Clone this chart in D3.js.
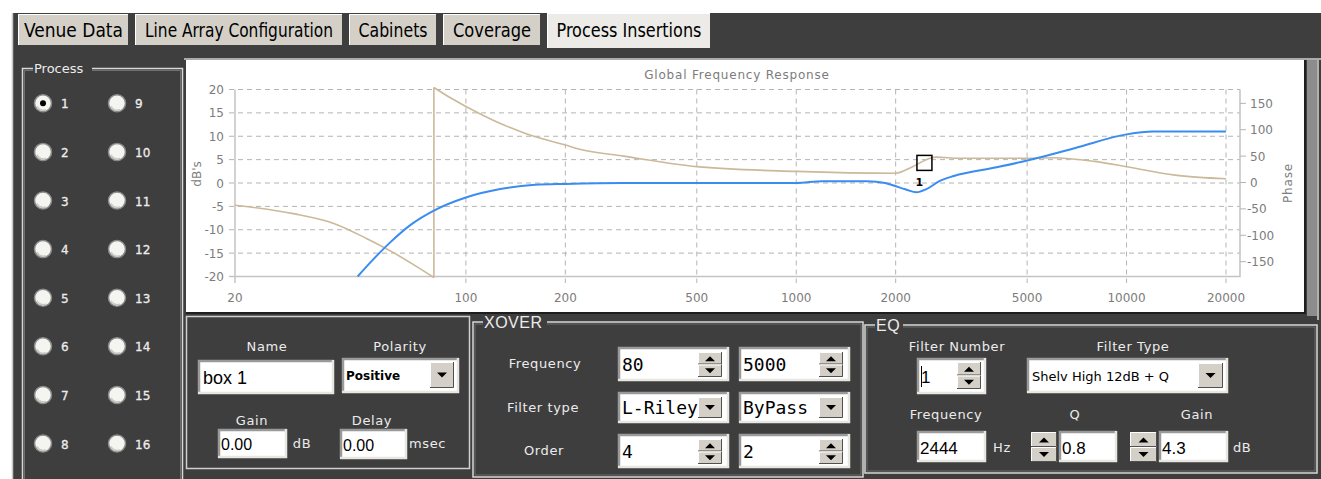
<!DOCTYPE html>
<html>
<head>
<meta charset="utf-8">
<script src="https://cdn.jsdelivr.net/npm/d3@7"></script>
<style>
    html, body { margin: 0; padding: 0; background: #ffffff; }
    svg { display: block; }
</style>
</head>
<body>
<script>
// Magnitude response (blue), dB against frequency in Hz
const magFreq = [47, 52, 59, 68.5, 80, 100, 127, 162, 200, 300, 1000, 1200, 1640, 1860, 1980, 2150, 2312, 2480, 2730, 3000, 4000, 5000, 7000, 10000, 12000, 20000];
const magDb = [-20, -16.6, -12.7, -8.8, -5.9, -3.1, -1.3, -0.4, -0.2, 0, 0, 0.4, 0.4, 0, -0.6, -1.4, -2.0, -1.3, 0.5, 1.5, 3.3, 4.8, 7.5, 10.4, 11, 11];

// Phase response (tan), degrees against frequency, wraps at 80 Hz
const phaseFreq = [20, 30, 40, 50, 60, 70, 80, 80, 90, 100, 120, 150, 200, 221, 300, 500, 1000, 2000, 2250, 2540, 2650, 3130, 5000, 6000, 8000, 10000, 14000, 20000];
const phaseDeg = [-43, -59, -78, -106, -132, -157, -180, 180, 160, 144, 119, 94, 71, 63, 50, 30, 21, 17.5, 30, 46, 48, 46, 46, 47, 40, 30, 14, 7];

// Axis ticks
const freqTicks = [20, 100, 200, 500, 1000, 2000, 5000, 10000, 20000];
const dbTicks = [20, 15, 10, 5, 0, -5, -10, -15, -20];
const phaseTicks = [150, 100, 50, 0, -50, -100, -150];

// EQ filter marker
const markerFreq = [2444];
const markerGain = [4.3];

// Tabs and process numbers
const tabNames = ['Venue Data', 'Line Array Configuration', 'Cabinets', 'Coverage', 'Process Insertions'];
const processNumbers = [1, 2, 3, 4, 5, 6, 7, 8, 9, 10, 11, 12, 13, 14, 15, 16];

const W = 1321, H = 479;
const DARK = '#3e3e3e', FACE = '#d4d0c8', LABEL = '#ececec';
const UI_FONT = 'DejaVu Sans, Verdana, sans-serif';

const svg = d3.select('body').append('svg')
    .attr('width', W)
    .attr('height', H);

// Dark application panel
svg.append('rect').attr('x', 12).attr('y', 13).attr('width', W - 12).attr('height', H - 13).attr('fill', DARK);
svg.append('line').attr('x1', 12.5).attr('x2', 12.5).attr('y1', 13).attr('y2', H).attr('stroke', '#c8c8c8').attr('stroke-width', 1.5);

// Tabs
const tabX = [18, 135, 349, 443, 547];
const tabW = [111, 208, 88, 98, 164];
const tabTextW = [99, 188, 69, 78, 145];
tabNames.forEach(function(name, i) {
    const selected = i === tabNames.length - 1;
    const top = selected ? 13 : 14;
    const h = selected ? 35 : 31;
    svg.append('rect')
        .attr('x', tabX[i]).attr('y', top).attr('width', tabW[i]).attr('height', h)
        .attr('fill', selected ? '#ecebe7' : FACE);
    // bevel
    svg.append('path')
        .attr('d', `M${tabX[i] + 0.5},${top + h} V${top + 0.5} H${tabX[i] + tabW[i]}`)
        .attr('stroke', '#ffffff').attr('fill', 'none');
    svg.append('line')
        .attr('x1', tabX[i] + tabW[i] - 0.5).attr('x2', tabX[i] + tabW[i] - 0.5)
        .attr('y1', top).attr('y2', top + h)
        .attr('stroke', '#404040');
    svg.append('text')
        .attr('x', tabX[i] + (tabW[i] - tabTextW[i]) / 2)
        .attr('y', 37)
        .attr('textLength', tabTextW[i])
        .attr('lengthAdjust', 'spacingAndGlyphs')
        .attr('font-family', 'Liberation Sans Narrow, DejaVu Sans Condensed, Arial, sans-serif')
        .attr('font-size', 19)
        .attr('fill', '#000')
        .text(name);
});

// ---------- Process group with radio buttons ----------
svg.append('path')
    .attr('d', 'M33,68.5 H22.5 V479 M182.5,479 V68.5 H92')
    .attr('stroke', '#d8d8d8').attr('fill', 'none').attr('stroke-width', 1.5);
svg.append('path')
    .attr('d', 'M33,70.5 H24.5 V479 M180.5,479 V70.5 H92')
    .attr('stroke', '#707070').attr('fill', 'none').attr('stroke-width', 1);
svg.append('text')
    .attr('x', 34).attr('y', 73)
    .attr('font-family', UI_FONT).attr('font-size', 13)
    .attr('fill', LABEL)
    .text('Process');

processNumbers.forEach(function(n, i) {
    const col = Math.floor(i / 8), row = i % 8;
    const cx = col === 0 ? 43 : 117;
    const cy = 103.3 + row * 48.6;
    svg.append('circle').attr('cx', cx).attr('cy', cy).attr('r', 8.5)
        .attr('fill', '#f4f4f0').attr('stroke', '#8a8a8a').attr('stroke-width', 1.5);
    svg.append('path')
        .attr('d', `M${cx - 6},${cy + 3} A7,7 0 0 0 ${cx + 3},${cy + 6.5}`)
        .attr('stroke', '#c8c8c0').attr('fill', 'none').attr('stroke-width', 1.5);
    if (n === 1) {
        svg.append('circle').attr('cx', cx).attr('cy', cy).attr('r', 3).attr('fill', '#000');
    }
    svg.append('text')
        .attr('x', cx + 18).attr('y', cy + 5)
        .attr('font-family', UI_FONT).attr('font-size', 12)
        .attr('fill', LABEL)
        .attr('stroke', LABEL).attr('stroke-width', 0.3)
        .text(n);
});

// ---------- Chart panel ----------
svg.append('line').attr('x1', 184).attr('x2', W).attr('y1', 59).attr('y2', 59).attr('stroke', '#d0d0d0').attr('stroke-width', 1.5);
svg.append('rect').attr('x', 186).attr('y', 60).attr('width', 1118).attr('height', 252).attr('fill', '#ffffff');
svg.append('path').attr('d', 'M1305,60 V313 H186').attr('stroke', '#1e1e1e').attr('stroke-width', 2).attr('fill', 'none');
svg.append('rect').attr('x', 1307).attr('y', 60).attr('width', 10).attr('height', 256).attr('fill', '#8c8c8c');
svg.append('line').attr('x1', 1318).attr('x2', 1318).attr('y1', 60).attr('y2', 320).attr('stroke', '#d6d6d6').attr('stroke-width', 1.5);

const x = d3.scaleLog().domain([20, 20000]).range([235, 1226]);
const yDb = d3.scaleLinear().domain([-20, 20]).range([276.5, 89.5]);
const yPh = d3.scaleLinear().domain([-180, 180]).range([277.5, 87.5]);

const chart = svg.append('g').attr('font-family', UI_FONT).attr('font-size', 12).attr('fill', '#7c7c7c');

// Grid
chart.selectAll('.hgrid')
    .data(dbTicks.filter(d => d !== -20))
    .enter().append('line')
    .attr('x1', 229).attr('x2', 1240)
    .attr('y1', d => yDb(d)).attr('y2', d => yDb(d))
    .attr('stroke', '#b4b4b4').attr('stroke-dasharray', '5,4');
chart.selectAll('.vgrid')
    .data(freqTicks.filter(d => d !== 20))
    .enter().append('line')
    .attr('x1', d => x(d)).attr('x2', d => x(d))
    .attr('y1', yDb(20)).attr('y2', 283)
    .attr('stroke', '#b4b4b4').attr('stroke-dasharray', '5,4');

// Axis lines
chart.append('path')
    .attr('d', `M${x(20)},${yDb(20)} V${yDb(-20)} H1240 V${yDb(20)}`)
    .attr('stroke', '#c4c4c4').attr('stroke-width', 1.5).attr('fill', 'none');
chart.append('line').attr('x1', x(20)).attr('x2', x(20)).attr('y1', yDb(-20)).attr('y2', 283).attr('stroke', '#c4c4c4').attr('stroke-width', 1.5);
chart.append('line').attr('x1', 229).attr('x2', x(20)).attr('y1', yDb(-20)).attr('y2', yDb(-20)).attr('stroke', '#c4c4c4').attr('stroke-width', 1.5);

// Left axis labels (dB)
chart.selectAll('.dbLabel')
    .data(dbTicks)
    .enter().append('text')
    .attr('x', 224).attr('y', d => yDb(d) + 4.5)
    .attr('text-anchor', 'end')
    .text(d => d);

// Bottom axis labels (Hz)
chart.selectAll('.fLabel')
    .data(freqTicks)
    .enter().append('text')
    .attr('x', d => x(d)).attr('y', 302)
    .attr('text-anchor', 'middle')
    .text(d => d);

// Right axis ticks and labels (phase)
chart.selectAll('.phTick')
    .data(phaseTicks)
    .enter().append('line')
    .attr('x1', 1240).attr('x2', 1246)
    .attr('y1', d => yPh(d)).attr('y2', d => yPh(d))
    .attr('stroke', '#b4b4b4');
chart.selectAll('.phLabel')
    .data(phaseTicks)
    .enter().append('text')
    .attr('x', d => d < 0 ? 1247 : 1250).attr('y', d => yPh(d) + 4.5)
    .text(d => d);

// Titles
chart.append('text')
    .attr('x', 737).attr('y', 79)
    .attr('text-anchor', 'middle')
    .attr('letter-spacing', 0.8)
    .text('Global Frequency Response');
chart.append('text')
    .attr('transform', 'translate(201,174) rotate(-90)')
    .attr('text-anchor', 'middle')
    .text("dB's");
chart.append('text')
    .attr('transform', 'translate(1292,183) rotate(-90)')
    .attr('text-anchor', 'middle')
    .attr('letter-spacing', 0.8)
    .text('Phase');

// Curves: the phase is split at the wrap point and joined by a vertical jump
const phasePts = phaseFreq.map((f, i) => [f, phaseDeg[i]]);
const wrapAt = phaseFreq.indexOf(80) + 1;
const phaseLine = d3.line()
    .x(d => x(d[0]))
    .y(d => yPh(d[1]))
    .curve(d3.curveMonotoneX);
[phasePts.slice(0, wrapAt), phasePts.slice(wrapAt)].forEach(function(seg) {
    chart.append('path')
        .attr('d', phaseLine(seg))
        .attr('fill', 'none')
        .attr('stroke', '#cbb999')
        .attr('stroke-width', 1.6);
});
chart.append('line')
    .attr('x1', x(80)).attr('x2', x(80))
    .attr('y1', yPh(phaseDeg[wrapAt - 1])).attr('y2', yPh(phaseDeg[wrapAt]))
    .attr('stroke', '#cbb999')
    .attr('stroke-width', 1.6);

const magLine = d3.line()
    .x((d, i) => x(magFreq[i]))
    .y(d => yDb(d))
    .curve(d3.curveMonotoneX);
chart.append('path')
    .attr('d', magLine(magDb))
    .attr('fill', 'none')
    .attr('stroke', '#3a8cf0')
    .attr('stroke-width', 2);

// Filter marker
markerFreq.forEach(function(f, i) {
    const mx = x(f), my = yDb(markerGain[i]);
    chart.append('rect')
        .attr('x', mx - 7.5).attr('y', my - 7.5).attr('width', 15).attr('height', 15)
        .attr('fill', 'none').attr('stroke', '#000').attr('stroke-width', 1.5);
    chart.append('text')
        .attr('x', mx - 5).attr('y', my + 23)
        .attr('text-anchor', 'middle')
        .attr('font-size', 11).attr('font-weight', 'bold')
        .attr('fill', '#000')
        .text(i + 1);
});

// ---------- Widget helpers ----------
function sunkenBox(x0, y0, w, h) {
    svg.append('rect').attr('x', x0).attr('y', y0).attr('width', w).attr('height', h).attr('fill', '#ffffff');
    svg.append('path').attr('d', `M${x0 + 1},${y0 + h} V${y0 + 1} H${x0 + w}`).attr('stroke', '#9a9a9a').attr('stroke-width', 2.5).attr('fill', 'none');
    svg.append('path').attr('d', `M${x0},${y0 + h - 1} H${x0 + w - 1} V${y0}`).attr('stroke', '#e8e6e0').attr('stroke-width', 2.5).attr('fill', 'none');
}

function raised(x0, y0, w, h) {
    svg.append('rect').attr('x', x0).attr('y', y0).attr('width', w).attr('height', h).attr('fill', FACE);
    svg.append('path').attr('d', `M${x0 + 0.5},${y0 + h} V${y0 + 0.5} H${x0 + w}`).attr('stroke', '#ffffff').attr('fill', 'none');
    svg.append('path').attr('d', `M${x0},${y0 + h - 0.5} H${x0 + w - 0.5} V${y0}`).attr('stroke', '#505050').attr('fill', 'none');
}

function arrow(cx, cy, up) {
    const s = up ? -1 : 1;
    svg.append('path')
        .attr('d', `M${cx - 5},${cy - 2.5 * s} L${cx + 5},${cy - 2.5 * s} L${cx},${cy + 2.5 * s} Z`)
        .attr('fill', '#000');
}

function spin(x0, y0, w, h) {
    raised(x0, y0, w, h / 2);
    raised(x0, y0 + h / 2, w, h / 2);
    arrow(x0 + w / 2, y0 + h / 4 + 0.5, true);
    arrow(x0 + w / 2, y0 + 3 * h / 4, false);
}

function drop(x0, y0, w, h) {
    raised(x0, y0, w, h);
    arrow(x0 + w / 2, y0 + h / 2, false);
}

function label(text, cx, y0, anchor) {
    svg.append('text')
        .attr('x', cx).attr('y', y0)
        .attr('text-anchor', anchor || 'middle')
        .attr('font-family', UI_FONT).attr('font-size', 13)
        .attr('letter-spacing', 0.6)
        .attr('fill', LABEL)
        .text(text);
}

function value(text, x0, y0, font, size, weight) {
    svg.append('text')
        .attr('x', x0).attr('y', y0)
        .attr('font-family', font).attr('font-size', size)
        .attr('font-weight', weight || 'normal')
        .attr('fill', '#000')
        .text(text);
}

function group(x0, y0, x1, y1, title, tw) {
    svg.append('path')
        .attr('d', `M${x0 + 10},${y0} H${x0} V${y1} H${x1} V${y0} H${x0 + 12 + tw}`)
        .attr('stroke', '#d8d8d8').attr('stroke-width', 1.5).attr('fill', 'none');
    svg.append('path')
        .attr('d', `M${x0 + 10},${y0 + 2} H${x0 + 2} V${y1 - 2} H${x1 - 2} V${y0 + 2} H${x0 + 12 + tw}`)
        .attr('stroke', '#6a6a6a').attr('stroke-width', 1).attr('fill', 'none');
    svg.append('text')
        .attr('x', x0 + 11).attr('y', y0 + 6)
        .attr('font-family', 'Liberation Sans, Arial, sans-serif').attr('font-size', 16)
        .attr('letter-spacing', 0.5)
        .attr('fill', LABEL)
        .text(title);
}

const ARIAL = 'Liberation Sans, Arial, sans-serif';
const MONO = 'DejaVu Sans Mono, Liberation Mono, monospace';

// ---------- Name / Polarity / Gain / Delay panel ----------
svg.append('rect').attr('x', 186.5).attr('y', 316.5).attr('width', 283).attr('height', 152)
    .attr('fill', 'none').attr('stroke', '#cfcfcf').attr('stroke-width', 1.5);
label('Name', 267, 351);
label('Polarity', 400, 351);
sunkenBox(198, 360, 136, 34);
value('box 1', 203, 384, ARIAL, 18);
sunkenBox(342, 358, 117, 35);
value('Positive', 346, 380, UI_FONT, 12, 'bold');
drop(430, 362, 24, 26);
label('Gain', 252, 425);
label('Delay', 372, 425);
sunkenBox(218, 429, 69, 29);
value('0.00', 221, 450, ARIAL, 16);
label('dB', 302, 448);
sunkenBox(340, 429, 67, 30);
value('0.00', 343, 451, ARIAL, 16);
label('msec', 409, 448, 'start');

// ---------- XOVER group ----------
group(473, 322, 863, 477, 'XOVER', 62);
label('Frequency', 545, 368);
label('Filter type', 543, 412);
label('Order', 544, 455);
[618, 739].forEach(function(bx, k) {
    sunkenBox(bx, 347, 111, 34);
    value(k === 0 ? '80' : '5000', bx + 4, 371, MONO, 18);
    spin(bx + 80, 352, 24, 25);

    sunkenBox(bx, 392, 111, 31);
    value(k === 0 ? 'L-Riley' : 'ByPass', bx + 4, 414, MONO, 18);
    drop(bx + 80, 397, 24, 21);

    sunkenBox(bx, 434, 111, 34);
    value(k === 0 ? '4' : '2', bx + 4, 458, MONO, 18);
    spin(bx + 80, 439, 24, 25);
});

// ---------- EQ group ----------
group(865, 325, 1317, 473, 'EQ', 26);
label('Filter Number', 957, 351);
label('Filter Type', 1133, 351);
sunkenBox(917, 358, 69, 36);
value('1', 921, 383, ARIAL, 17);
svg.append('line').attr('x1', 921.5).attr('x2', 921.5).attr('y1', 366).attr('y2', 387).attr('stroke', '#000');
spin(957, 362, 24, 27);
sunkenBox(1027, 358, 201, 35);
value('Shelv High 12dB + Q', 1032, 381, UI_FONT, 13);
drop(1198, 363, 25, 25);

label('Frequency', 946, 419);
label('Q', 1075, 419);
label('Gain', 1197, 419);
sunkenBox(917, 431, 69, 31);
value('2444', 920, 454, ARIAL, 17);
label('Hz', 993, 452, 'start');
spin(1031, 432, 26, 30);
sunkenBox(1059, 431, 58, 31);
value('0.8', 1062, 454, ARIAL, 17);
spin(1130, 432, 27, 30);
sunkenBox(1159, 431, 69, 31);
value('4.3', 1162, 454, ARIAL, 17);
label('dB', 1233, 452, 'start');
</script>
</body>
</html>
